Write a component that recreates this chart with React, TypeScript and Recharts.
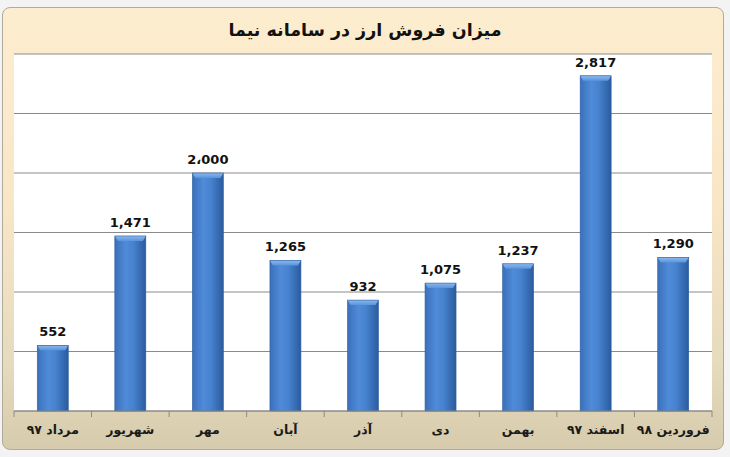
import React from "react";
import { BarChart, Bar, XAxis, YAxis, CartesianGrid, LabelList } from "recharts";

const categories = ["مرداد ۹۷", "شهریور", "مهر", "آبان", "آذر", "دی", "بهمن", "اسفند ۹۷", "فروردین ۹۸"];
const values = [552, 1471, 2000, 1265, 932, 1075, 1237, 2817, 1290];
const valueLabels = ["552", "1,471", "2،000", "1,265", "932", "1,075", "1,237", "2,817", "1,290"];
const yTicks = [0, 500, 1000, 1500, 2000, 2500, 3000];
const edgeTicks = [0, 1, 2, 3, 4, 5, 6, 7, 8, 9];
const title = "میزان فروش ارز در سامانه نیما";

const data = categories.map((c, i) => ({ name: c, value: values[i], label: valueLabels[i], edge: i }));

const FONT = "'DejaVu Sans', Arial, sans-serif";

const BarShape = (props: any) => {
  const { x, y, width, height } = props;
  if (!height || height <= 0) return null;
  const bevel = Math.min(5, height / 2);
  return (
    <g>
      <rect x={x} y={y} width={width} height={height} fill="url(#barGrad)" />
      <path
        d={`M${x},${y} L${x + width},${y} L${x + width - 3},${y + bevel} L${x + 3},${y + bevel} Z`}
        fill="url(#bevelGrad)"
      />
      <rect x={x} y={y} width={width} height={height} fill="none" stroke="#2d5f9f" strokeWidth={0.6} />
    </g>
  );
};

const CatTick = (props: any) => {
  const { x, y, payload } = props;
  return (
    <text
      x={x}
      y={y + 10}
      textAnchor="middle"
      dominantBaseline="middle"
      fontFamily={FONT}
      fontWeight="bold"
      fontSize={12.5}
      fill="#1a1a1a"
      direction="rtl"
    >
      {payload.value}
    </text>
  );
};

const EmptyTick = () => <g />;

export default function App() {
  return (
    <div style={{ position: "absolute", left: 0, top: 0, width: 730, height: 457, background: "#f3f3f3", overflow: "hidden" }}>
      <div
        style={{
          position: "absolute",
          left: 2,
          top: 7,
          width: 722,
          height: 443,
          borderRadius: 8,
          border: "1px solid #b1aa9a",
          boxSizing: "border-box",
          background: "linear-gradient(to bottom, #fdedcf 0%, #f8e6c6 45%, #e6dbbd 80%, #d6cbad 100%)",
        }}
      />
      <div
        style={{
          position: "absolute",
          left: 0,
          top: 20,
          width: 730,
          textAlign: "center",
          fontFamily: FONT,
          fontWeight: "bold",
          fontSize: 17.5,
          color: "#111",
          direction: "rtl",
        }}
      >
        {title}
      </div>
      <div style={{ position: "absolute", left: 0, top: 0 }}>
        <BarChart
          width={730}
          height={457}
          data={data}
          margin={{ top: 54, right: 18, left: 14, bottom: 6 }}
          barCategoryGap="30%"
        >
          <defs>
            <linearGradient id="barGrad" x1="0" y1="0" x2="1" y2="0">
              <stop offset="0%" stopColor="#3b70ba" />
              <stop offset="35%" stopColor="#4f8bd8" />
              <stop offset="60%" stopColor="#4682ce" />
              <stop offset="100%" stopColor="#2b5b9e" />
            </linearGradient>
            <linearGradient id="bevelGrad" x1="0" y1="0" x2="0" y2="1">
              <stop offset="0%" stopColor="#8ab8ee" />
              <stop offset="100%" stopColor="#5a94dc" />
            </linearGradient>
          </defs>
          <CartesianGrid
            xAxisId="zcat"
            yAxisId="v"
            vertical={false}
            fill="#ffffff"
            fillOpacity={1}
            stroke="#8a8a8a"
            strokeWidth={1}
          />
          <YAxis yAxisId="v" hide domain={[0, 3000]} ticks={yTicks} />
          <XAxis
            xAxisId="aedges"
            type="number"
            dataKey="edge"
            domain={[0, 9]}
            ticks={edgeTicks}
            tick={<EmptyTick />}
            tickLine={{ stroke: "#8a8a8a" }}
            tickSize={6}
            axisLine={{ stroke: "#8a8a8a" }}
            height={1}
            allowDataOverflow
          />
          <XAxis
            xAxisId="zcat"
            dataKey="name"
            tick={<CatTick />}
            tickLine={false}
            axisLine={false}
            height={39}
            interval={0}
          />
          <Bar xAxisId="zcat" yAxisId="v" dataKey="value" shape={<BarShape />} isAnimationActive={false}>
            <LabelList
              dataKey="label"
              position="top"
              offset={9}
              fontFamily={FONT}
              fontWeight="bold"
              fontSize={13}
              fill="#111"
            />
          </Bar>
        </BarChart>
      </div>
    </div>
  );
}
